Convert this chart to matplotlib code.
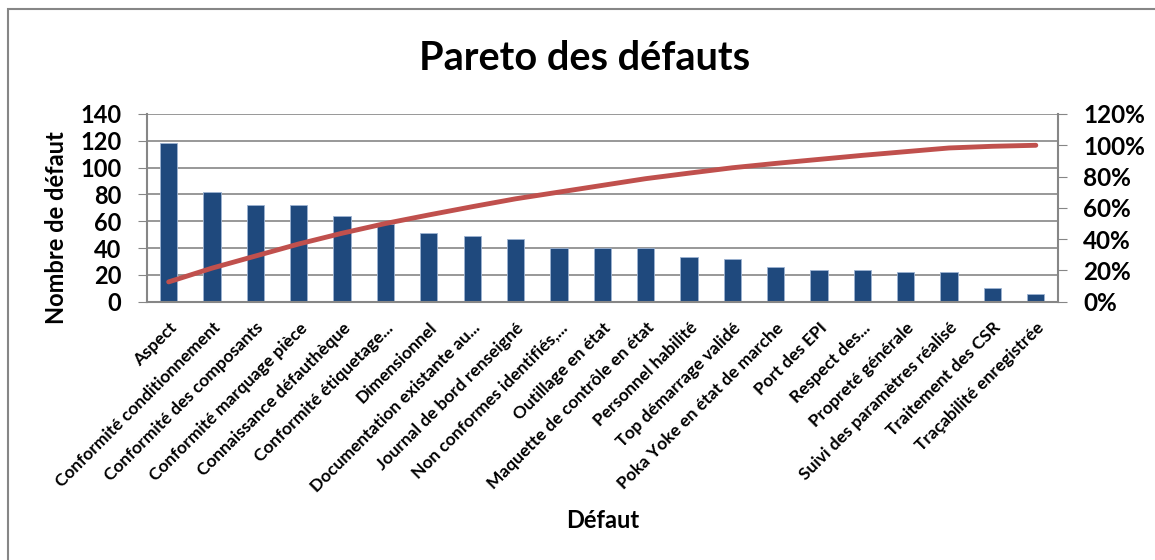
import numpy as np
import matplotlib
matplotlib.use("Agg")
import matplotlib.pyplot as plt
from matplotlib.patches import Rectangle
from matplotlib.ticker import FuncFormatter

# data
defauts = [
    "Aspect", "Conformité conditionnement", "Conformité des composants",
    "Conformité marquage pièce", "Connaissance défauthèque",
    "Conformité étiquetage...", "Dimensionnel", "Documentation existante au...",
    "Journal de bord renseigné", "Non conformes identifiés,...",
    "Outillage en état", "Maquette de contrôle en état", "Personnel habilité",
    "Top démarrage validé", "Poka Yoke en état de marche", "Port des EPI",
    "Respect des...", "Propreté générale", "Suivi des paramètres réalisé",
    "Traitement des CSR", "Traçabilité enregistrée",
]
nombre = [118, 82, 72, 72, 64, 58, 51, 49, 47, 40, 40, 40, 33, 32, 26, 24, 24,
          22, 22, 10, 6]

# cumulative share for the pareto line
cumul = np.cumsum(nombre) / np.sum(nombre)

plt.rcParams['font.family'] = ['Lato', 'DejaVu Sans']
grid_col = '#868686'

fig = plt.figure(figsize=(11.55, 5.6), dpi=100)
ax = fig.add_axes([147/1155, 1 - 301.7/560, 910.5/1155, 187.7/560])
x = np.arange(len(defauts))

ax.set_axisbelow(True)
ax.grid(axis='y', color=grid_col, linewidth=1.2)
ax.bar(x, nombre, width=0.4, color='#1F497D', edgecolor='#9DB3D2',
       linewidth=0.6, zorder=2)
ax.set_xlim(-0.5, len(defauts) - 0.5)
ax.set_ylim(0, 140)
ax.set_yticks(range(0, 141, 20))
ax.set_xticks(x)
ax.set_xticklabels(defauts, rotation=45, ha='right', va='top',
                   rotation_mode='anchor', fontsize=12.5, fontweight='bold')
ax.tick_params(axis='x', length=0, pad=13)
ax.tick_params(axis='y', length=6.5, color=grid_col, labelsize=17, pad=12)
for lab in ax.get_yticklabels():
    lab.set_fontweight('bold')
for s in ['top', 'right']:
    ax.spines[s].set_visible(False)
for s in ['left', 'bottom']:
    ax.spines[s].set_color(grid_col)
    ax.spines[s].set_linewidth(1.5)
ax.set_ylabel("Nombre de défaut", fontsize=17, fontweight='bold')
ax.set_xlabel("Défaut", fontsize=17, fontweight='bold')
ax.yaxis.set_label_coords(-0.087, 0.396)
ax.xaxis.set_label_coords(0.501, -1.104)

ax2 = ax.twinx()
ax2.plot(x, cumul, color='#C0504D', linewidth=3.5, solid_capstyle='round',
         zorder=3)
ax2.set_ylim(0, 1.2)
ax2.set_yticks(np.arange(0, 1.21, 0.2))
ax2.yaxis.set_major_formatter(FuncFormatter(lambda v, p: f"{v*100:.0f}%"))
ax2.tick_params(axis='y', length=6.5, color=grid_col, labelsize=17.5, pad=12)
for lab in ax2.get_yticklabels():
    lab.set_fontweight('bold')
for s in ['top', 'left', 'bottom']:
    ax2.spines[s].set_visible(False)
ax2.spines['right'].set_color(grid_col)
ax2.spines['right'].set_linewidth(1.5)

fig.suptitle("Pareto des défauts", fontsize=28.5, fontweight='bold',
             x=0.506, y=1 - 58/560, va='center')

# chart area border (runs off the right/bottom edge like the source)
fig.patches.append(Rectangle((8/1155, -0.1), 1.2, 1.1 - 8.5/560,
                             transform=fig.transFigure, fill=False,
                             edgecolor=grid_col, linewidth=1.5))

fig.savefig("out.png", dpi=100)
